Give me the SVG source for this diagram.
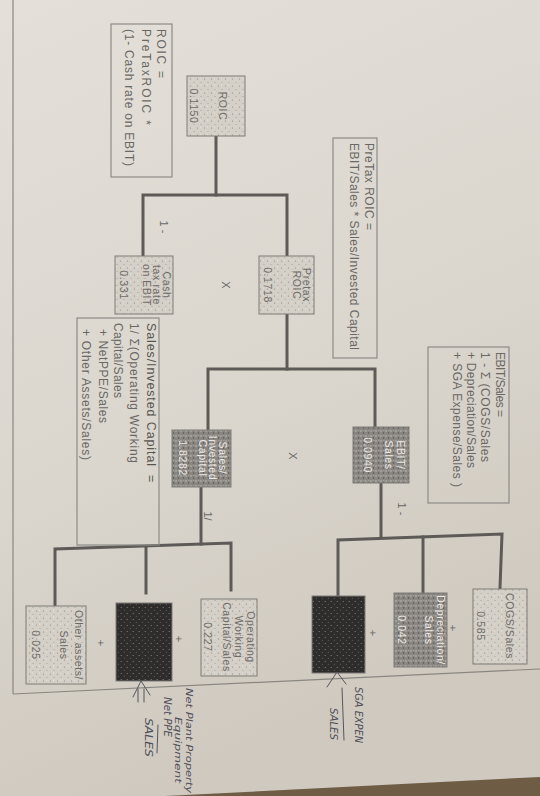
<svg xmlns="http://www.w3.org/2000/svg" width="540" height="796" viewBox="0 0 540 796">
<style>
.t{font-family:"Liberation Sans",Arial,sans-serif;dominant-baseline:central;}
.f{font-size:12px;fill:#6a6865;}
.n{font-size:10.5px;letter-spacing:0.6px;text-anchor:middle;}
.nl{fill:#6e6c69;}
.nd{fill:#ebe8e3;}
.h{font-family:"DejaVu Sans",sans-serif;font-style:italic;fill:#4f4f5a;dominant-baseline:central;}
.box{stroke:#7f7c78;stroke-width:1;}
.fb{fill:none;stroke:#8e8b87;stroke-width:1.2;}
.c{fill:none;stroke:#5d5a57;stroke-width:3;stroke-linecap:square;}
.pen{fill:none;stroke:#55555f;stroke-width:1;stroke-linecap:round;stroke-linejoin:round;}
</style>
<defs>
<linearGradient id="paper" x1="0" y1="0" x2="0.3" y2="1">
<stop offset="0" stop-color="#e4e0d9"/>
<stop offset="0.6" stop-color="#dad5cd"/>
<stop offset="1" stop-color="#cfc9bf"/>
</linearGradient>
<pattern id="pl" width="7" height="7" patternUnits="userSpaceOnUse">
<rect width="7" height="7" fill="#d4cfc7"/>
<circle cx="1.5" cy="2" r="0.6" fill="#8d8882"/>
<circle cx="5" cy="5.5" r="0.5" fill="#9a958f"/>
<circle cx="4.5" cy="1" r="0.5" fill="#f0ede8"/>
</pattern>
<pattern id="pm" width="5" height="5" patternUnits="userSpaceOnUse">
<rect width="5" height="5" fill="#8a8682"/>
<circle cx="1" cy="1" r="0.7" fill="#c9c5c0"/>
<circle cx="3.5" cy="3" r="0.7" fill="#55524f"/>
<circle cx="3.8" cy="0.6" r="0.5" fill="#b4b0ab"/>
</pattern>
<pattern id="pd" width="6" height="6" patternUnits="userSpaceOnUse">
<rect width="6" height="6" fill="#2f2d2c"/>
<circle cx="1.2" cy="1.5" r="0.6" fill="#8c8884"/>
<circle cx="4.3" cy="4.2" r="0.5" fill="#6d6966"/>
</pattern>
</defs>

<rect width="540" height="796" fill="url(#paper)"/>
<polygon points="165,796 540,777 540,796" fill="#6f5c45"/>
<line x1="13" y1="0" x2="13" y2="694" stroke="#8a8782" stroke-width="1.2"/>
<line x1="13" y1="694" x2="540" y2="669" stroke="#8a8782" stroke-width="1.2"/>

<g id="connectors">
<polyline class="c" points="216,136 216,195"/>
<polyline class="c" points="143,256 143,195 287,195 287,256"/>
<polyline class="c" points="287,314 287,369"/>
<polyline class="c" points="208,430 208,369 375,369 375,427"/>
<polyline class="c" points="201,487 201,544"/>
<polyline class="c" points="55,606 55,549 231,543 231,590"/>
<polyline class="c" points="146,547 146,593"/>
<polyline class="c" points="381,483 381,537"/>
<polyline class="c" points="338,596 338,540 502,534 500,588"/>
<polyline class="c" points="423,537 423,592"/>
</g>

<g id="labels" class="t" font-size="11" fill="#6a6865">
<text transform="translate(164,227) rotate(90)" text-anchor="middle">1 -</text>
<text transform="translate(226,285) rotate(90)" text-anchor="middle">X</text>
<text transform="translate(293,456) rotate(90)" text-anchor="middle">X</text>
<text transform="translate(208,516) rotate(90)" text-anchor="middle">1/</text>
<text transform="translate(402,509) rotate(90)" text-anchor="middle">1 -</text>
<text transform="translate(101,643) rotate(90)" text-anchor="middle">+</text>
<text transform="translate(179,639) rotate(90)" text-anchor="middle">+</text>
<text transform="translate(373,633) rotate(90)" text-anchor="middle">+</text>
<text transform="translate(453,628) rotate(90)" text-anchor="middle">+</text>
</g>

<g id="roic-formula">
<rect class="fb" x="111" y="24" width="61" height="153"/>
<text class="t f" transform="translate(161,29) rotate(90)" textLength="49" lengthAdjust="spacing">ROIC =</text>
<text class="t f" transform="translate(146,29) rotate(90)" textLength="96" lengthAdjust="spacing">PreTaxROIC  *</text>
<text class="t f" transform="translate(129,29) rotate(90)" textLength="137" lengthAdjust="spacing">(1- Cash rate on EBIT)</text>
</g>

<g id="roic">
<rect class="box" x="187" y="76" width="58" height="60" fill="url(#pl)"/>
<text class="t n nl" transform="translate(223,106) rotate(90)">ROIC</text>
<text class="t n nl" transform="translate(194,106) rotate(90)">0.1150</text>
</g>

<g id="pretax-formula">
<rect class="fb" x="333" y="138" width="44" height="220"/>
<text class="t f" transform="translate(369,143) rotate(90)" textLength="87" lengthAdjust="spacing">PreTax ROIC =</text>
<text class="t f" transform="translate(354,143) rotate(90)" textLength="207" lengthAdjust="spacing">EBIT/Sales * Sales/Invested Capital</text>
</g>

<g id="cash-tax">
<rect class="box" x="115" y="256" width="58" height="58" fill="url(#pl)"/>
<text class="t n nl" transform="translate(167,285) rotate(90)">Cash</text>
<text class="t n nl" transform="translate(157,285) rotate(90)">tax rate</text>
<text class="t n nl" transform="translate(147,285) rotate(90)">on EBIT</text>
<text class="t n nl" transform="translate(124,285) rotate(90)">0.331</text>
</g>

<g id="pretax-roic">
<rect class="box" x="259" y="256" width="55" height="58" fill="url(#pl)"/>
<text class="t n nl" transform="translate(307,285) rotate(90)">Pretax</text>
<text class="t n nl" transform="translate(297,285) rotate(90)">ROIC</text>
<text class="t n nl" transform="translate(268,285) rotate(90)">0.1718</text>
</g>

<g id="sic-formula">
<rect class="fb" x="77" y="318" width="82" height="227"/>
<text class="t f" transform="translate(151,323) rotate(90)" style="fill:#57554f;font-size:12.5px" textLength="143" lengthAdjust="spacing">Sales/Invested Capital</text>
<text class="t f" transform="translate(151,475) rotate(90)" style="fill:#57554f;font-size:12.5px">=</text>
<text class="t f" transform="translate(134,323) rotate(90)" textLength="140" lengthAdjust="spacing">1/ Σ(Operating Working</text>
<text class="t f" transform="translate(118,323) rotate(90)" textLength="75" lengthAdjust="spacing">Capital/Sales</text>
<text class="t f" transform="translate(103,329) rotate(90)" textLength="94" lengthAdjust="spacing">+ NetPPE/Sales</text>
<text class="t f" transform="translate(86,329) rotate(90)" textLength="131" lengthAdjust="spacing">+ Other Assets/Sales)</text>
</g>

<g id="ebit-formula">
<rect class="fb" x="428" y="347" width="81" height="156"/>
<text class="t f" transform="translate(500,352) rotate(90)" textLength="65" lengthAdjust="spacing">EBIT/Sales =</text>
<text class="t f" transform="translate(485,352) rotate(90)" textLength="110" lengthAdjust="spacing">1 - Σ (COGS/Sales</text>
<text class="t f" transform="translate(471,352) rotate(90)" textLength="116" lengthAdjust="spacing">+ Depreciation/Sales</text>
<text class="t f" transform="translate(457,352) rotate(90)" textLength="135" lengthAdjust="spacing">+ SGA Expense/Sales  )</text>
</g>

<g id="sales-ic">
<rect class="box" x="172" y="430" width="59" height="57" fill="url(#pm)"/>
<text class="t n nd" transform="translate(223,458) rotate(90)">Sales/</text>
<text class="t n nd" transform="translate(213,458) rotate(90)">Invested</text>
<text class="t n nd" transform="translate(203,458) rotate(90)">Capital</text>
<text class="t n nd" transform="translate(183,458) rotate(90)">1.8282</text>
</g>

<g id="ebit-sales">
<rect class="box" x="353" y="427" width="56" height="56" fill="url(#pm)"/>
<text class="t n nd" transform="translate(401,455) rotate(90)">EBIT/</text>
<text class="t n nd" transform="translate(389,455) rotate(90)">Sales</text>
<text class="t n nd" transform="translate(368,455) rotate(90)">0.0940</text>
</g>

<g id="other-assets">
<rect class="box" x="26" y="606" width="60" height="78" fill="url(#pl)"/>
<text class="t n nl" transform="translate(79,645) rotate(90)">Other assets/</text>
<text class="t n nl" transform="translate(64,645) rotate(90)">Sales</text>
<text class="t n nl" transform="translate(36,645) rotate(90)">0.025</text>
</g>

<g id="net-ppe">
<rect class="box" x="116" y="603" width="56" height="78" fill="url(#pd)"/>
</g>

<g id="op-wc">
<rect class="box" x="201" y="599" width="56" height="77" fill="url(#pl)"/>
<text class="t n nl" transform="translate(251,637) rotate(90)">Operating</text>
<text class="t n nl" transform="translate(239,637) rotate(90)">Working</text>
<text class="t n nl" transform="translate(227,637) rotate(90)">Capital/Sales</text>
<text class="t n nl" transform="translate(208,637) rotate(90)">0.227</text>
</g>

<g id="sga">
<rect class="box" x="312" y="596" width="53" height="77" fill="url(#pd)"/>
</g>

<g id="depreciation">
<rect class="box" x="394" y="593" width="53" height="74" fill="url(#pm)"/>
<text class="t n nd" transform="translate(441,630) rotate(90)">Depreciation/</text>
<text class="t n nd" transform="translate(429,630) rotate(90)">Sales</text>
<text class="t n nd" transform="translate(402,630) rotate(90)">0.042</text>
</g>

<g id="cogs">
<rect class="box" x="473" y="589" width="54" height="75" fill="url(#pl)"/>
<text class="t n nl" transform="translate(510,626) rotate(90)">COGS/Sales</text>
<text class="t n nl" transform="translate(481,626) rotate(90)">0.585</text>
</g>

<g id="annotation-sga">
<polyline class="pen" points="327,687 337,672 346,684"/>
<line class="pen" x1="342" y1="688" x2="344" y2="740"/>
<text class="h" font-size="10" transform="translate(358,687) rotate(90)" textLength="56" lengthAdjust="spacingAndGlyphs">SGA EXPEN</text>
<text class="h" font-size="10" transform="translate(333,708) rotate(90)" textLength="32" lengthAdjust="spacingAndGlyphs">SALES</text>
</g>

<g id="annotation-ppe">
<polyline class="pen" points="133,697 141,681 150,695"/>
<line class="pen" x1="138" y1="689" x2="138" y2="702"/>
<line class="pen" x1="144" y1="689" x2="144" y2="702"/>
<text class="h" font-size="9" transform="translate(189,688) rotate(90)" textLength="105" lengthAdjust="spacingAndGlyphs">Net Plant Property</text>
<text class="h" font-size="9" transform="translate(178,717) rotate(90)" textLength="66" lengthAdjust="spacingAndGlyphs">Equipment</text>
<text class="h" font-size="10" transform="translate(167,697) rotate(90)" textLength="40" lengthAdjust="spacingAndGlyphs">Net PPE</text>
<line class="pen" x1="158" y1="725" x2="157" y2="753"/>
<text class="h" font-size="10" transform="translate(148,718) rotate(90)" textLength="39" lengthAdjust="spacingAndGlyphs">SALES</text>
</g>
</svg>
